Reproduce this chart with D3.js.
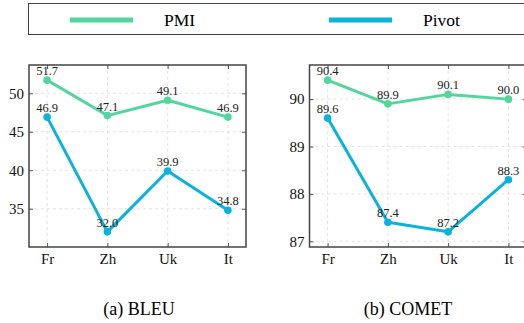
<!DOCTYPE html>
<html>
<head>
<meta charset="utf-8">
<script src="https://cdn.jsdelivr.net/npm/d3@7"></script>
<style>
  body { margin: 0; background: #fff; }
  svg text { font-family: "Liberation Serif", "Times New Roman", "DejaVu Serif", serif; }
</style>
</head>
<body>
<div id="chart"></div>
<script>
// Data
const languages = ["Fr", "Zh", "Uk", "It"];
const seriesNames = ["PMI", "Pivot"];
const seriesColors = ["#52d69d", "#0bb2d9"];
const bleuPMI = [51.7, 47.1, 49.1, 46.9];
const bleuPivot = [46.9, 32.0, 39.9, 34.8];
const cometPMI = [90.4, 89.9, 90.1, 90.0];
const cometPivot = [89.6, 87.4, 87.2, 88.3];
const bleuTicks = [35, 40, 45, 50];
const cometTicks = [87, 88, 89, 90];

const serif = "'Liberation Serif', 'Times New Roman', serif";
const W = 524, H = 323;
const svg = d3.select("#chart").append("svg")
    .attr("width", W)
    .attr("height", H);

// Legend box
const legend = svg.append("g");
legend.append("rect")
    .attr("x", 28.5).attr("y", 3.5)
    .attr("width", 520).attr("height", 31)
    .attr("fill", "none")
    .attr("stroke", "#444")
    .attr("stroke-width", 1);
const legendX = [70, 329];
seriesNames.forEach((name, i) => {
    legend.append("line")
        .attr("x1", legendX[i]).attr("x2", legendX[i] + 63)
        .attr("y1", 20).attr("y2", 20)
        .attr("stroke", seriesColors[i])
        .attr("stroke-width", 5);
    legend.append("text")
        .attr("x", legendX[i] + 94)
        .attr("y", 25.5)
        .attr("font-family", serif)
        .style("font-size", "17.5px")
        .text(name);
});

// One panel
function drawPanel(left, pmi, pivot, ticks, caption, captionX) {
    const top = 65, bottom = 247, width = 217;
    const all = pmi.concat(pivot);
    const lo = d3.min(all), hi = d3.max(all);
    const pad = (hi - lo) * 0.1;

    const x = d3.scaleLinear().domain([-0.3, 3.3]).range([left, left + width]);
    const y = d3.scaleLinear().domain([lo - pad, hi + pad]).range([bottom, top]);

    const g = svg.append("g");

    // Grid
    g.selectAll(".gx").data(languages).join("line")
        .attr("x1", (d, i) => x(i)).attr("x2", (d, i) => x(i))
        .attr("y1", top).attr("y2", bottom)
        .attr("stroke", "#dcdcdc").attr("stroke-width", 0.8)
        .attr("stroke-dasharray", "3,3");
    g.selectAll(".gy").data(ticks).join("line")
        .attr("x1", left).attr("x2", left + width)
        .attr("y1", d => y(d)).attr("y2", d => y(d))
        .attr("stroke", "#dcdcdc").attr("stroke-width", 0.8)
        .attr("stroke-dasharray", "3,3");

    // Axes
    const yAxis = d3.axisLeft(y).tickValues(ticks).tickSize(-4).tickPadding(5)
        .tickFormat(d3.format("d"));
    const yAxisR = d3.axisRight(y).tickValues(ticks).tickSize(-4).tickFormat("");
    const xAxis = d3.axisBottom(x).tickValues([0, 1, 2, 3]).tickSize(-4).tickPadding(6)
        .tickFormat(i => languages[i]);
    const xAxisT = d3.axisTop(x).tickValues([0, 1, 2, 3]).tickSize(-4).tickFormat("");

    const axes = [
        g.append("g").attr("transform", `translate(${left},0)`).call(yAxis),
        g.append("g").attr("transform", `translate(${left + width},0)`).call(yAxisR),
        g.append("g").attr("transform", `translate(0,${bottom})`).call(xAxis),
        g.append("g").attr("transform", `translate(0,${top})`).call(xAxisT)
    ];
    axes.forEach(a => {
        a.attr("font-family", serif).attr("font-size", 15);
        a.select(".domain").remove();
        a.selectAll(".tick line").attr("stroke", "#555");
        a.selectAll("text").attr("fill", "#111");
    });

    // Frame
    g.append("rect")
        .attr("x", left).attr("y", top)
        .attr("width", width).attr("height", bottom - top)
        .attr("fill", "none")
        .attr("stroke", "#444")
        .attr("stroke-width", 1.5);

    const line = d3.line()
        .x((d, i) => x(i))
        .y(d => y(d));

    [pmi, pivot].forEach((vals, s) => {
        g.append("path")
            .datum(vals)
            .attr("fill", "none")
            .attr("stroke", seriesColors[s])
            .attr("stroke-width", 3)
            .attr("stroke-linejoin", "round")
            .attr("d", line);
        g.selectAll(".dot" + s).data(vals).join("circle")
            .attr("cx", (d, i) => x(i))
            .attr("cy", d => y(d))
            .attr("r", 3.8)
            .attr("fill", seriesColors[s]);
        g.selectAll(".lab" + s).data(vals).join("text")
            .attr("x", (d, i) => x(i))
            .attr("y", d => y(d) - 5)
            .attr("text-anchor", "middle")
            .attr("fill", "#222")
            .attr("font-family", serif)
            .style("font-size", "12.5px")
            .text(d => d.toFixed(1));
    });

    svg.append("text")
        .attr("x", captionX)
        .attr("y", 315)
        .attr("text-anchor", "middle")
        .attr("font-family", serif)
        .style("font-size", "18px")
        .text(caption);
}

drawPanel(29, bleuPMI, bleuPivot, bleuTicks, "(a) BLEU", 139);
drawPanel(309.5, cometPMI, cometPivot, cometTicks, "(b) COMET", 408);
</script>
</body>
</html>
